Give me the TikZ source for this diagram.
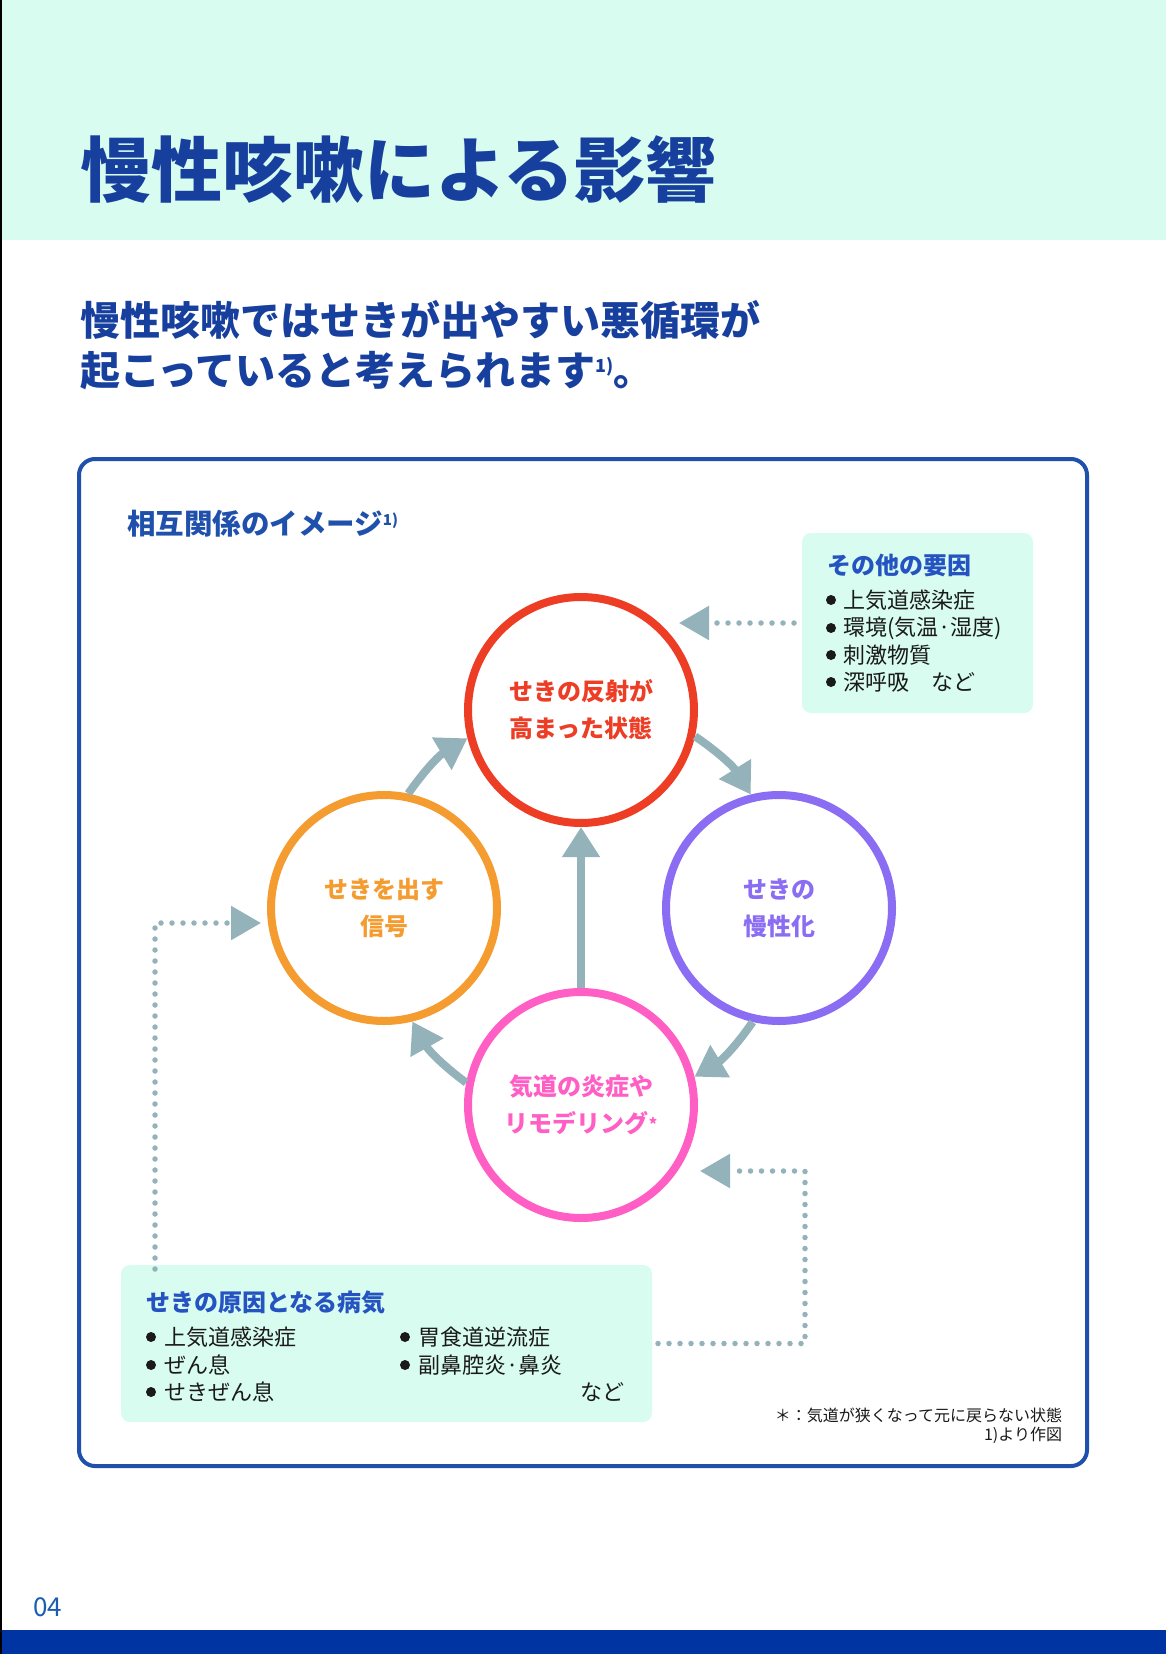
\documentclass[tikz,border=0pt]{standalone}
\usepackage{fontspec}
\setmainfont{Noto Sans CJK JP}
\usetikzlibrary{arrows.meta,calc}
\definecolor{mint}{HTML}{D8FCEF}
\definecolor{navy}{HTML}{17409E}
\definecolor{frameblue}{HTML}{1E50AC}
\definecolor{boxblue}{HTML}{2553C2}
\definecolor{cred}{HTML}{EE3D25}
\definecolor{corange}{HTML}{F59C30}
\definecolor{cpurple}{HTML}{8B6DF4}
\definecolor{cpink}{HTML}{FF5EC4}
\definecolor{arrowgray}{HTML}{94B2BA}
\definecolor{bandblue}{HTML}{0034A2}
\definecolor{pageno}{HTML}{1B5DB0}
\definecolor{ink}{HTML}{1A1A1A}
\newcommand\myref[2]{\smash{\raisebox{#1}{\fontsize{#2}{#2}\selectfont 1)}}}
\begin{document}
\begin{tikzpicture}[x=1pt,y=-1pt,
  every node/.style={inner sep=0pt, outer sep=0pt},
  ring/.style={circle, draw, minimum size=226pt, line width=8pt, outer sep=4pt, align=center,
     font=\fontsize{24}{37}\selectfont\bfseries},
  flow/.style={arrowgray, line width=8pt, -{Triangle[length=30pt,width=36pt]}},
  dots/.style={arrowgray, line width=5.5pt, line cap=round, dash pattern=on 0pt off 11pt,
     -{Triangle[length=30pt,width=33pt]}},
  infobox/.style={fill=mint, rounded corners=9pt},
  boxtitle/.style={anchor=west, text=boxblue, font=\fontsize{24}{24}\selectfont\bfseries},
  item/.style={anchor=west, text=ink, font=\fontsize{22}{22}\selectfont},
  note/.style={anchor=east, text=ink, font=\fontsize{16}{16}\selectfont}
]
\useasboundingbox (0,0) rectangle (1166,1654);
\fill[white] (0,0) rectangle (1166,1654);
% header band
\fill[mint] (0,0) rectangle (1166,240);
\fill[bandblue] (0,1630) rectangle (1166,1654);
\draw[black, line width=1.5pt] (0.75,0) -- (0.75,1654);

\node[anchor=west, text=navy, font=\fontsize{71}{71}\selectfont\bfseries] (title) at (80,170) {慢性咳嗽による影響};
\node[anchor=west, text=navy, font=\fontsize{40}{40}\selectfont\bfseries] (sub1) at (80,320) {慢性咳嗽ではせきが出やすい悪循環が};
\node[anchor=west, text=navy, font=\fontsize{40}{40}\selectfont\bfseries] (sub2) at (80,371) {起こっていると考えられます\myref{13pt}{18}。};

% frame
\draw[frameblue, line width=4pt, rounded corners=16pt] (79,459) rectangle (1087,1466);
\node[anchor=west, text=frameblue, font=\fontsize{28.5}{28.5}\selectfont\bfseries] (imgtitle) at (127,524) {相互関係のイメージ\myref{9pt}{15}};

% info boxes
\node[infobox, minimum width=231pt, minimum height=180pt] (other) at (917.5,623) {};
\node[infobox, minimum width=531pt, minimum height=157pt] (causes) at (386.5,1343.5) {};

\node[boxtitle] (othert) at (827,565) {その他の要因};
\foreach \y/\t in {600/上気道感染症, 628/環境(気温·湿度), 655/刺激物質, 682/深呼吸　など}{
  \fill[ink] (831,\y) circle (5pt);
  \node[item] at (843,\y) {\t};
}
\node[boxtitle] (causest) at (146,1303) {せきの原因となる病気};
\foreach \y/\t in {1337/上気道感染症, 1365/ぜん息, 1392/せきぜん息}{
  \fill[ink] (151,\y) circle (5pt);
  \node[item] at (164,\y) {\t};
}
\foreach \y/\t in {1337/胃食道逆流症, 1365/副鼻腔炎·鼻炎}{
  \fill[ink] (405,\y) circle (5pt);
  \node[item] at (418,\y) {\t};
}
\node[item] (nado) at (580,1392) {など};

% circles
\node[ring, draw=cred, text=cred] (red) at (581,710) {せきの反射が\\高まった状態};
\node[ring, draw=corange, text=corange] (orange) at (384,908) {せきを出す\\信号};
\node[ring, draw=cpurple, text=cpurple] (purple) at (779,908) {せきの\\慢性化};
\node[ring, draw=cpink, text=cpink] (pink) at (581,1105) {気道の炎症や\\リモデリング\smash{\raisebox{2pt}{\fontsize{16}{16}\selectfont *}}};

% solid flow arrows
\draw[flow] (orange.78) to[bend left=12] (red.194);
\draw[flow] (red.-13) to[bend left=12] (purple.104);
\draw[flow] (purple.257) to[bend left=12] (pink.14);
\draw[flow] (pink.169) to[bend left=12] (orange.284);
\draw[flow] (pink.north) -- (red.south);

% dotted connectors
\coordinate (redin) at (679,623);
\coordinate (orangein) at (261,923);
\coordinate (pinkin) at (700,1171);
\draw[dots] ([xshift=-8pt]other.west) -- (redin);
\draw[dots] ([xshift=34pt,yshift=-4pt]causes.north west) |- (orangein);
\draw[dots] ([xshift=6pt]causes.east) -- ([xshift=153pt]causes.east) |- (pinkin);

% notes
\node[note] (note1) at (1062,1415) {＊：気道が狭くなって元に戻らない状態};
\node[note] (note2) at (1062,1435) {1)より作図};

\node[anchor=west, text=pageno, font=\fontsize{26}{26}\selectfont] (pg) at (33,1607) {04};
\end{tikzpicture}
\end{document}
